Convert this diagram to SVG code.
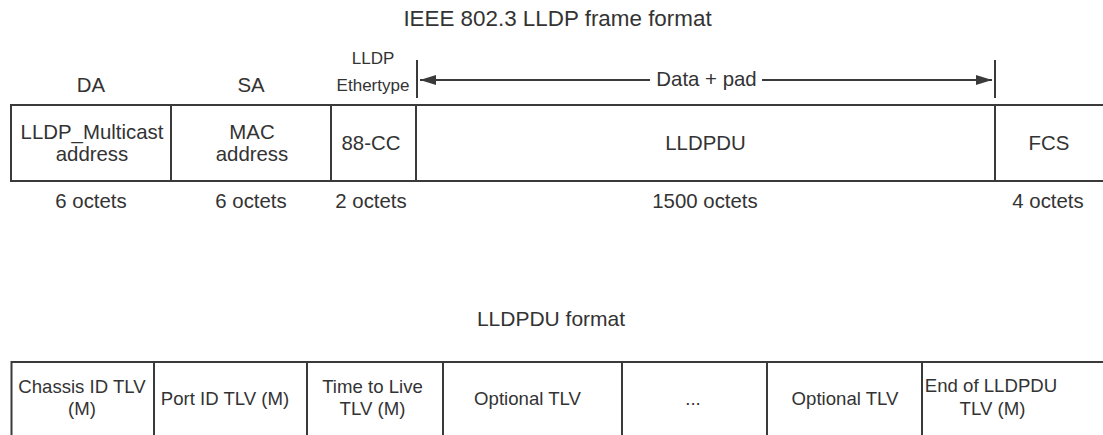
<svg xmlns="http://www.w3.org/2000/svg" width="1103" height="435" viewBox="0 0 1103 435">
  <defs>
    <style>
      text { font-family: "Liberation Sans", Arial, Helvetica, sans-serif; fill: #333; text-anchor: middle; }
      .t { font-size: 20.4px; }
      .b { font-size: 18.6px; }
      .s { font-size: 17px; }
      .title { font-size: 22.4px; }
      .sub { font-size: 21px; }
      .ln { stroke: #3a3a3a; stroke-width: 2; fill: none; }
    </style>
    <marker id="ah" viewBox="0 0 16 10" refX="16" refY="5" markerWidth="16" markerHeight="10" markerUnits="userSpaceOnUse" orient="auto-start-reverse">
      <path d="M0,0 L16,5 L0,10 Z" fill="#3a3a3a"/>
    </marker>
  </defs>
  <rect width="1103" height="435" fill="#fff"/>

  <!-- Ethernet frame -->
  <text class="title" x="557.5" y="26">IEEE 802.3 LLDP frame format</text>
  <g id="frame-outline">
    <path class="ln" d="M1103,105 H11 V181 H1103"/>
  </g>
  <g id="field-da">
    <text class="t" x="91" y="92">DA</text>
    <text class="t" x="92" y="139">LLDP_Multicast</text>
    <text class="t" x="92" y="161">address</text>
    <text class="t" x="91" y="208">6 octets</text>
  </g>
  <g id="field-sa">
    <line class="ln" x1="171" y1="105" x2="171" y2="181"/>
    <text class="t" x="251" y="92">SA</text>
    <text class="t" x="252" y="139">MAC</text>
    <text class="t" x="252" y="161">address</text>
    <text class="t" x="251" y="208">6 octets</text>
  </g>
  <g id="field-ethertype">
    <line class="ln" x1="331" y1="105" x2="331" y2="181"/>
    <text class="s" x="373" y="64">LLDP</text>
    <text class="s" x="373" y="91">Ethertype</text>
    <text class="t" x="371" y="150">88-CC</text>
    <text class="t" x="371" y="208">2 octets</text>
  </g>
  <g id="field-lldpdu">
    <line class="ln" x1="416" y1="105" x2="416" y2="181"/>
    <text class="t" x="705.5" y="150">LLDPDU</text>
    <text class="t" x="705" y="208">1500 octets</text>
  </g>
  <g id="field-fcs">
    <line class="ln" x1="995" y1="105" x2="995" y2="181"/>
    <text class="t" x="1049" y="150">FCS</text>
    <text class="t" x="1048" y="208">4 octets</text>
  </g>

  <!-- Data + pad span -->
  <g id="connectors">
    <line class="ln" x1="417" y1="60" x2="417" y2="98"/>
    <line class="ln" x1="995" y1="60" x2="995" y2="98"/>
    <line class="ln" x1="650" y1="80" x2="420" y2="80" marker-end="url(#ah)"/>
    <line class="ln" x1="762" y1="80" x2="992" y2="80" marker-end="url(#ah)"/>
  </g>
  <g id="label-data-pad">
    <text class="t" x="706.5" y="86">Data + pad</text>
  </g>

  <!-- LLDPDU -->
  <text class="sub" x="551" y="326">LLDPDU format</text>
  <g id="pdu-outline">
    <path class="ln" d="M11.5,435 V362 H1103"/>
  </g>
  <g id="tlv-chassis">
    <text class="b" x="82" y="393">Chassis ID TLV</text>
    <text class="b" x="82" y="415">(M)</text>
  </g>
  <g id="tlv-port">
    <line class="ln" x1="154" y1="362" x2="154" y2="435"/>
    <text class="b" x="225" y="405">Port ID TLV (M)</text>
  </g>
  <g id="tlv-ttl">
    <line class="ln" x1="307" y1="362" x2="307" y2="435"/>
    <text class="b" x="372.5" y="393">Time to Live</text>
    <text class="b" x="372.5" y="415">TLV (M)</text>
  </g>
  <g id="tlv-optional-1">
    <line class="ln" x1="443" y1="362" x2="443" y2="435"/>
    <text class="b" x="527.5" y="405">Optional TLV</text>
  </g>
  <g id="tlv-ellipsis">
    <line class="ln" x1="622" y1="362" x2="622" y2="435"/>
    <text class="b" x="693" y="405">...</text>
  </g>
  <g id="tlv-optional-2">
    <line class="ln" x1="767" y1="362" x2="767" y2="435"/>
    <text class="b" x="845" y="405">Optional TLV</text>
  </g>
  <g id="tlv-end">
    <line class="ln" x1="922" y1="362" x2="922" y2="435"/>
    <text class="b" x="991" y="392">End of LLDPDU</text>
    <text class="b" x="992.5" y="415">TLV (M)</text>
  </g>
</svg>
